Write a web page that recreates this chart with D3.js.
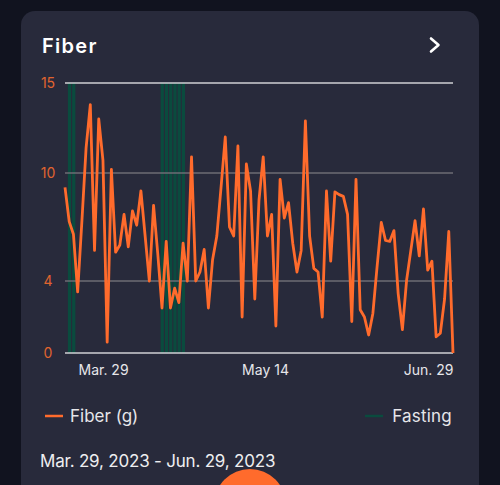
<!DOCTYPE html>
<html><head><meta charset="utf-8">
<script src="https://cdn.jsdelivr.net/npm/d3@7"></script>
<style>
html,body{margin:0;padding:0;background:#11131f;overflow:hidden}
svg{display:block;font-family:Inter,"Noto Sans",sans-serif}
</style></head><body>
<svg id="chart"></svg>
<script>
// data
const startDate = "2023-03-29", endDate = "2023-06-29";
const fiber = [9.2, 7.3, 6.6, 3.4, 7.3, 11.4, 13.8, 5.7, 13.0, 10.7,
  0.6, 10.2, 5.6, 6.0, 7.7, 5.9, 7.9, 7.1, 9.0, 6.5,
  4.0, 8.2, 5.5, 2.5, 6.2, 2.5, 3.6, 2.8, 6.1, 4.0,
  10.9, 4.0, 4.5, 5.75, 2.5, 5.2, 6.5, 9.2, 12.0, 7.0,
  6.5, 11.5, 2.0, 10.5, 9.0, 3.0, 8.5, 10.9, 6.5, 7.7,
  1.5, 9.65, 7.5, 8.35, 6.1, 4.5, 5.7, 12.9, 6.5, 4.7,
  4.5, 2.0, 9.0, 5.1, 8.95, 8.8, 8.7, 7.7, 1.75, 9.65,
  2.4, 2.0, 1.0, 2.2, 4.8, 7.25, 6.25, 6.2, 6.8, 3.3,
  1.3, 4.05, 5.7, 7.35, 5.4, 8.0, 4.6, 5.1, 0.9, 1.1,
  3.0, 6.75, 0];
const fastingDays = ["2023-03-30", "2023-03-31",
  "2023-04-21", "2023-04-22", "2023-04-23", "2023-04-24", "2023-04-25", "2023-04-26"];
const yTicks = [0, 4, 10, 15];
const xTicks = ["2023-03-29", "2023-05-14", "2023-06-29"];
const xTickLabels = ["Mar. 29", "May 14", "Jun. 29"];
const legendItems = ["Fiber (g)", "Fasting"];
const title = "Fiber", rangeLabel = "Mar. 29, 2023 - Jun. 29, 2023";

const width = 500, height = 485;
const ORANGE = "#ff6b2c", GREEN = "#0a4b3e";
const parse = d3.utcParse("%Y-%m-%d");
const days = d3.utcDay.range(parse(startDate), d3.utcDay.offset(parse(endDate), 1));
const series = days.map((d, i) => ({date: d, value: fiber[i]}));

const svg = d3.select("svg#chart").attr('width', width).attr('height', height);

// card
svg.append('rect').attr('x', 21).attr('y', 11).attr('width', 458).attr('height', 520)
  .attr('rx', 14).attr('fill', '#282a3b');

svg.append('text').attr('x', 42).attr('y', 53).text(title)
  .attr('fill', '#fff').attr('font-size', 20).attr('font-weight', 600).attr('letter-spacing', 1.3);
svg.append('path').attr('d', 'M431,38.5L438.5,45L431,51.5')
  .attr('fill', 'none').attr('stroke', '#fff').attr('stroke-width', 2.6)
  .attr('stroke-linecap', 'round').attr('stroke-linejoin', 'round');

const x = d3.scaleUtc().domain([parse(startDate), parse(endDate)]).range([65, 453]);
const y = d3.scaleLinear().domain([0, 15]).range([353, 83]);
const step = x(days[1]) - x(days[0]);

// fasting bars
svg.append('g').selectAll('rect').data(fastingDays).join('rect')
  .attr('x', d => x(parse(d)) - step / 2 + 0.8)
  .attr('width', step - 1)
  .attr('y', y(15)).attr('height', y(0) - y(15))
  .attr('fill', GREEN);

// grid
svg.append('g').selectAll('line').data(yTicks).join('line')
  .attr('x1', x.range()[0]).attr('x2', x.range()[1])
  .attr('y1', d => y(d)).attr('y2', d => y(d))
  .attr('stroke', d => (d === 0 || d === 15) ? '#cfd0d4' : '#6c6d74')
  .attr('stroke-width', 1.6);

// y labels
svg.append('g').selectAll('text').data(yTicks).join('text')
  .attr('x', 48).attr('y', d => y(d) + 5).attr('text-anchor', 'middle')
  .attr('fill', '#e0642f').attr('font-size', 14).text(d => d);

// x axis labels
const xAxis = svg.append('g').attr('transform', 'translate(0,360)')
  .call(d3.axisBottom(x).tickValues(xTicks.map(parse)).tickSize(0).tickFormat((d, i) => xTickLabels[i]));
xAxis.select('.domain').remove();
xAxis.selectAll('text').attr('fill', '#e6e6ea').attr('font-size', 14).attr('font-family', 'Inter, sans-serif')
  .attr('dy', 12)
  .attr('text-anchor', (d, i) => i === 0 ? 'start' : i === xTicks.length - 1 ? 'end' : 'middle')
  .attr('dx', (d, i) => i === 0 ? 13 : i === 1 ? 6 : 0);

// line
svg.append('path').datum(series)
  .attr('d', d3.line().x(d => x(d.date)).y(d => y(d.value)))
  .attr('fill', 'none').attr('stroke', ORANGE).attr('stroke-width', 2.8)
  .attr('stroke-linejoin', 'round');

// legend
const leg = svg.append('g');
leg.append('line').attr('x1', 45).attr('x2', 63).attr('y1', 416).attr('y2', 416)
  .attr('stroke', ORANGE).attr('stroke-width', 2.5);
leg.append('text').attr('x', 70).attr('y', 422).text(legendItems[0])
  .attr('fill', '#e6e6ea').attr('font-size', 17);
leg.append('line').attr('x1', 365).attr('x2', 383).attr('y1', 416).attr('y2', 416)
  .attr('stroke', GREEN).attr('stroke-width', 2.5);
leg.append('text').attr('x', 452).attr('y', 422).attr('text-anchor', 'end').text(legendItems[1])
  .attr('fill', '#e6e6ea').attr('font-size', 17).attr('letter-spacing', 0.2);

svg.append('text').attr('x', 40).attr('y', 467).text(rangeLabel)
  .attr('fill', '#eeeef0').attr('font-size', 17).attr('letter-spacing', -0.2);

svg.append('circle').attr('cx', 250).attr('cy', 505).attr('r', 36).attr('fill', ORANGE);
</script>
</body></html>
